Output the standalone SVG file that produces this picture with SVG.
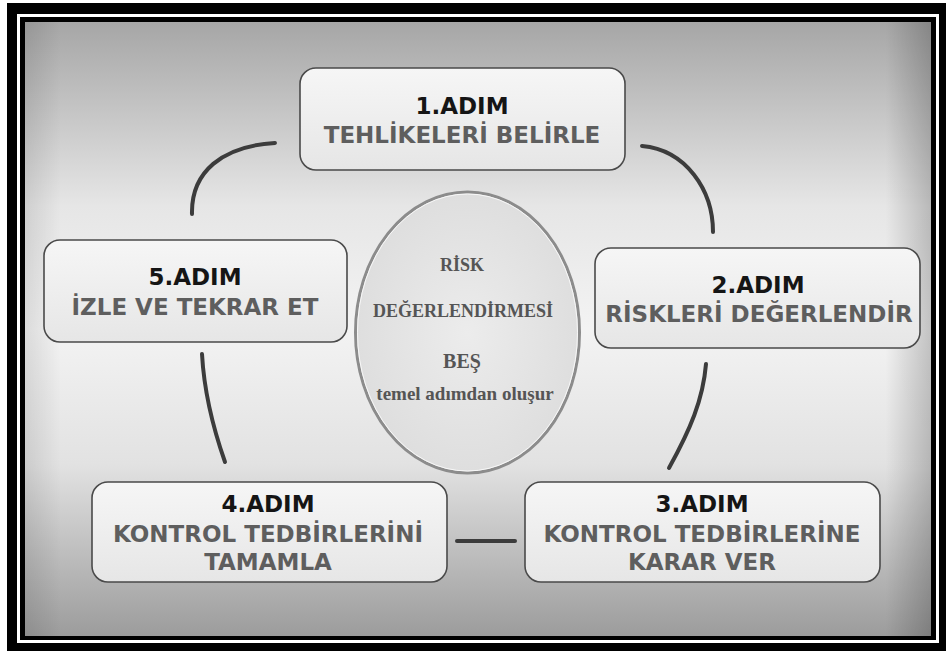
<svg xmlns="http://www.w3.org/2000/svg" width="946" height="651" viewBox="0 0 946 651">
  <defs>
    <linearGradient id="bg" x1="0" y1="0" x2="0" y2="1">
      <stop offset="0" stop-color="#a6a6a6"/>
      <stop offset="0.3" stop-color="#e6e6e6"/>
      <stop offset="0.5" stop-color="#f3f3f3"/>
      <stop offset="0.72" stop-color="#e2e2e2"/>
      <stop offset="1" stop-color="#9c9c9c"/>
    </linearGradient>
    <linearGradient id="side" x1="0" y1="0" x2="1" y2="0">
      <stop offset="0" stop-color="#000" stop-opacity="0.1"/>
      <stop offset="0.04" stop-color="#000" stop-opacity="0"/>
      <stop offset="0.95" stop-color="#000" stop-opacity="0"/>
      <stop offset="1" stop-color="#000" stop-opacity="0.2"/>
    </linearGradient>
    <linearGradient id="box" x1="0" y1="0" x2="0" y2="1">
      <stop offset="0" stop-color="#f6f6f6"/>
      <stop offset="1" stop-color="#e6e6e6"/>
    </linearGradient>
    <radialGradient id="ell" cx="0.5" cy="0.5" r="0.5">
      <stop offset="0" stop-color="#ececec"/>
      <stop offset="1" stop-color="#dedede"/>
    </radialGradient>
  </defs>
  <style>
    .box { fill: url(#box); stroke: #4a4a4a; stroke-width: 1.6; }
    .t1 { font-family: "DejaVu Sans", Verdana, sans-serif; font-weight: bold; font-size: 23px; fill: #151515; text-anchor: middle; }
    .t2 { font-family: "DejaVu Sans", Verdana, sans-serif; font-weight: bold; font-size: 23px; fill: #5e5e5e; text-anchor: middle; }
    .et { font-family: "Liberation Serif", "Times New Roman", serif; font-weight: bold; fill: #555555; text-anchor: middle; }
    .con { fill: none; stroke: #3c3c3c; stroke-width: 4; stroke-linecap: round; }
  </style>

  <rect x="0" y="0" width="946" height="651" fill="#ffffff"/>
  <rect x="7" y="3" width="939" height="648" fill="#000000"/>
  <rect x="18.5" y="15.5" width="919" height="626" fill="none" stroke="#ffffff" stroke-width="3"/>
  <rect x="25" y="22" width="906" height="614" fill="url(#bg)"/>
  <rect x="25" y="22" width="906" height="614" fill="url(#side)"/>

  <g id="connectors">
    <path class="con" d="M192,214 C191,172 222,146 275,143"/>
    <path class="con" d="M642,146 C686,150 713,190 713,232"/>
    <path class="con" d="M706,364 C703,400 690,430 669,468"/>
    <path class="con" d="M457,541 L515,541"/>
    <path class="con" d="M202,354 C204,390 212,425 225,462"/>
  </g>

  <g id="center">
    <ellipse cx="467.5" cy="332.5" rx="112" ry="140.5" fill="url(#ell)" stroke="#8c8c8c" stroke-width="3"/>
    <ellipse cx="467.5" cy="332.5" rx="110" ry="138.5" fill="none" stroke="#f8f8f8" stroke-width="1"/>
    <text class="et" x="462" y="271" font-size="18">RİSK</text>
    <text class="et" x="463" y="317" font-size="18">DEĞERLENDİRMESİ</text>
    <text class="et" x="462" y="368" font-size="20">BEŞ</text>
    <text class="et" x="465" y="400" font-size="19">temel adımdan oluşur</text>
  </g>

  <g id="step1">
    <rect class="box" x="300" y="68" width="325" height="102" rx="16"/>
    <text class="t1" x="462" y="114">1.ADIM</text>
    <text class="t2" x="462" y="143">TEHLİKELERİ BELİRLE</text>
  </g>

  <g id="step2">
    <rect class="box" x="595" y="248" width="325" height="100" rx="16"/>
    <text class="t1" x="758" y="293">2.ADIM</text>
    <text class="t2" x="759" y="322">RİSKLERİ DEĞERLENDİR</text>
  </g>

  <g id="step3">
    <rect class="box" x="525" y="482" width="355" height="100" rx="16"/>
    <text class="t1" x="702" y="512">3.ADIM</text>
    <text class="t2" x="702" y="542">KONTROL TEDBİRLERİNE</text>
    <text class="t2" x="702" y="570">KARAR VER</text>
  </g>

  <g id="step4">
    <rect class="box" x="92" y="482" width="355" height="100" rx="16"/>
    <text class="t1" x="268" y="512">4.ADIM</text>
    <text class="t2" x="268" y="542">KONTROL TEDBİRLERİNİ</text>
    <text class="t2" x="268" y="570">TAMAMLA</text>
  </g>

  <g id="step5">
    <rect class="box" x="44" y="240" width="303" height="102" rx="16"/>
    <text class="t1" x="195" y="285">5.ADIM</text>
    <text class="t2" x="195" y="315">İZLE VE TEKRAR ET</text>
  </g>
</svg>
